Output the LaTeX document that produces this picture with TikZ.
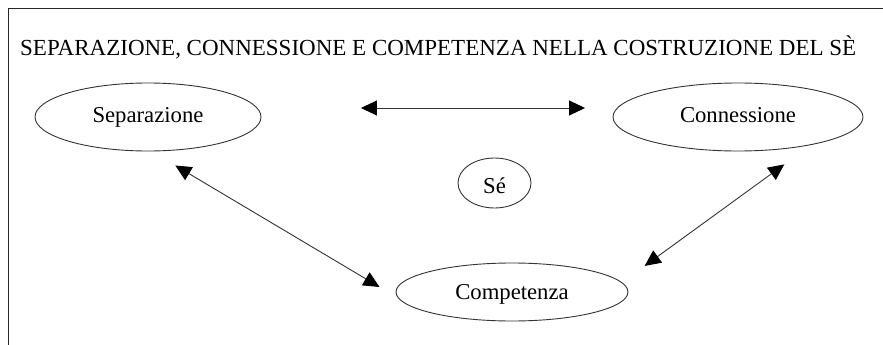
\documentclass[tikz,border=0pt]{standalone}
\usepackage{fontspec}
\setmainfont{Liberation Serif}
\usetikzlibrary{shapes.geometric, arrows.meta}

\tikzset{
  bubble/.style={ellipse, draw=black!80, line width=0.9pt, inner sep=0pt,
    text height=15pt, text depth=5pt, font=\fontsize{22.7}{27}\selectfont},
  twoway/.style={{Triangle[length=16pt,width=15pt,color=black]}-{Triangle[length=16pt,width=15pt,color=black]},
    draw=black!80, line width=0.9pt}
}

\begin{document}
\begin{tikzpicture}[x=1pt, y=-1pt]
        \useasboundingbox (0,0) rectangle (883,345);
        % frame
        \draw[black!85, line width=1.1pt] (883,8.5) -- (8.5,8.5) -- (8.5,345);
        \node[anchor=base west, inner sep=0pt, font=\fontsize{23}{27}\selectfont]
                (title) at (20,56) {SEPARAZIONE, CONNESSIONE E COMPETENZA NELLA COSTRUZIONE DEL SÈ};
        \node[bubble, minimum width=226pt, minimum height=68pt] (sep) at (148,117) {Separazione};
        \node[bubble, minimum width=250pt, minimum height=68pt] (conn) at (738,117) {Connessione};
        \node[bubble, minimum width=73pt, minimum height=50pt, text height=25pt] (se) at (494.5,183) {Sé};
        \node[bubble, minimum width=232pt, minimum height=58pt, text height=19pt] (comp) at (512,292) {Competenza};
        % arrows
        \draw[twoway, shorten <=99.5pt, shorten >=27.5pt] ([yshift=9pt]sep.east) -- ([yshift=9pt]conn.west);
        \draw[twoway, shorten <=27.5pt, shorten >=21.5pt] (sep.-84.3) -- (comp.183);
        \draw[twoway, shorten <=33pt, shorten >=28pt] (conn.-21.3) -- (comp.5.6);
\end{tikzpicture}
\end{document}
